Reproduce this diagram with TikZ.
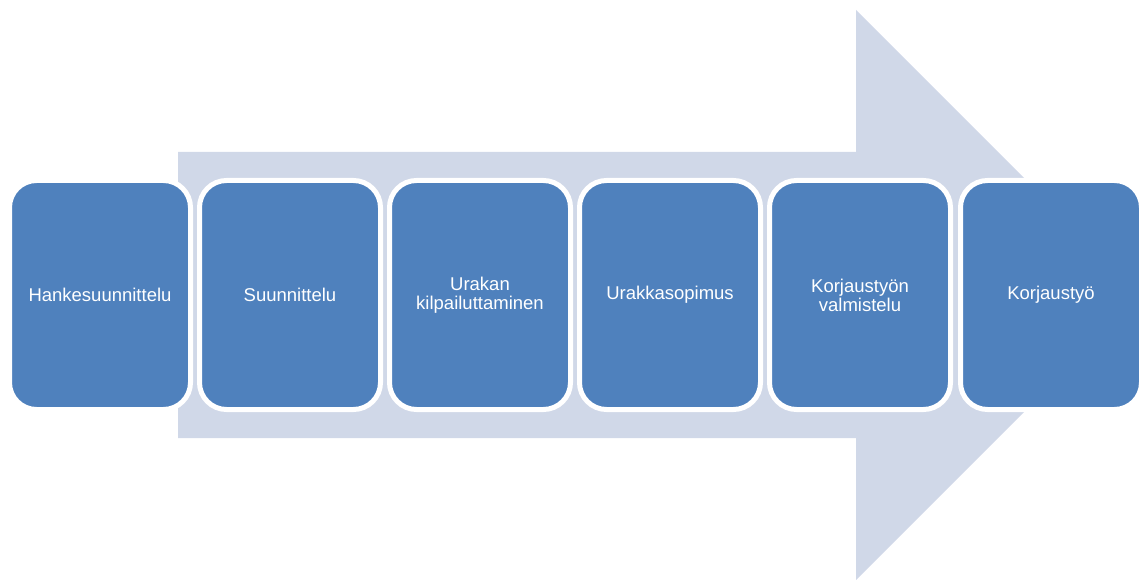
\documentclass[tikz,border=0pt]{standalone}
\usepackage{fontspec}
\setmainfont{Liberation Sans}
\definecolor{boxblue}{HTML}{4F81BD}
\definecolor{arrowgray}{HTML}{D0D8E8}
\begin{document}
\begin{tikzpicture}[x=1pt,y=-1pt,
  stepbox/.style={draw=white, line width=5pt, fill=boxblue, rounded corners=27pt,
    minimum width=181pt, minimum height=229pt, inner sep=0pt,
    text=white, align=center, font=\fontsize{18.5}{19}\selectfont}]
\useasboundingbox (0,0) rectangle (1141,580);
\fill[arrowgray] (178,152) -- (856,152) -- (856,10) -- (1141,295) -- (856,580) -- (856,438) -- (178,438) -- cycle;
\node[stepbox] (b1) at (100,295) {Hankesuunnittelu};
\node[stepbox] (b2) at (290,295) {Suunnittelu};
\node[stepbox] (b3) at (480,295) {Urakan\\kilpailuttaminen};
\node[stepbox] (b4) at (670,295) {Urakkasopimus};
\node[stepbox] (b5) at (860,295) {Korjaustyön\\valmistelu};
\node[stepbox] (b6) at (1051,295) {Korjaustyö};
\end{tikzpicture}
\end{document}
